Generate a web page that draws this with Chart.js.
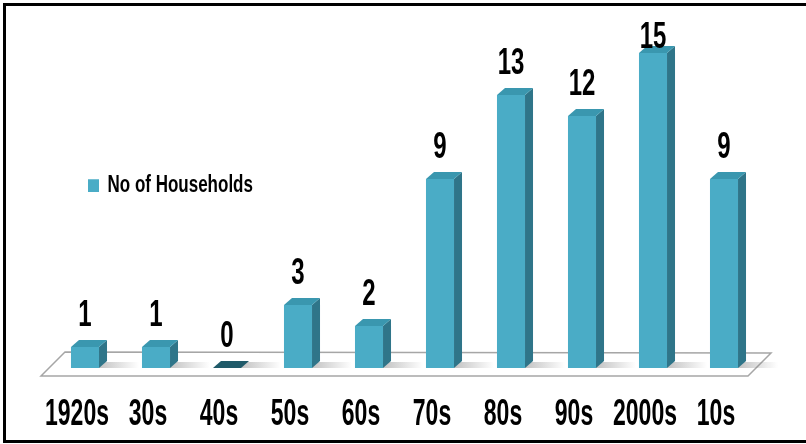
<!DOCTYPE html>
<html>
<head>
<meta charset="utf-8">
<script src="https://cdn.jsdelivr.net/npm/chart.js@4/dist/chart.umd.min.js"></script>
<style>
  html, body { margin: 0; padding: 0; background: #fff; overflow: hidden; }
  #wrap { position: relative; width: 806px; height: 444px; overflow: hidden; }
  #frame { position: absolute; left: 3px; top: 3px; width: 830px; height: 440px;
           border-top: 3px solid #000; border-left: 3px solid #000; border-bottom: 3px solid #000;
           box-sizing: border-box; }
  canvas { position: absolute; left: 0; top: 0; }
</style>
</head>
<body>
<div id="wrap">
  <div id="frame"></div>
  <canvas id="myChart" width="806" height="444"></canvas>
</div>
<script>
// decades and household counts
const decades = ["1920s", "30s", "40s", "50s", "60s", "70s", "80s", "90s", "2000s", "10s"];
const households = [1, 1, 0, 3, 2, 9, 13, 12, 15, 9];
const seriesName = "No of Households";

const FONT = "'Liberation Sans', Arial, sans-serif";
const frontCol = "#4aacc6";
const sideCol = "#2f7589";
const topCol = "#3a97af";
const flatCol = "#1f5a69";
const depth = 8, rise = 7;
const tickSize = 23, labelSize = 24, legendSize = 17;

// the original uses a tall condensed face, so text gets stretched upward
function stretchY(target, name, centerY, k) {
  if (target["_st_" + name]) return;
  target["_st_" + name] = true;
  const orig = target[name];
  target[name] = function (...args) {
    const ctx = this.ctx;
    const c = centerY(this);
    ctx.save();
    ctx.translate(0, c); ctx.scale(1, k); ctx.translate(0, -c);
    orig.apply(this, args);
    ctx.restore();
  };
}

// floor under the bars, a flat parallelogram
const floorPlugin = {
  id: "floor",
  beforeDatasetsDraw(chart) {
    const a = chart.chartArea;
    const y0 = chart.scales.y.getPixelForValue(0);
    const ctx = chart.ctx;
    ctx.save();
    ctx.beginPath();
    ctx.moveTo(a.left - 8.5, y0 + 8);
    ctx.lineTo(a.right - 11.5, y0 + 8);
    ctx.lineTo(a.right + 11.5, y0 - 15);
    ctx.lineTo(a.left + 15.5, y0 - 16);
    ctx.closePath();
    ctx.fillStyle = "#fff";
    ctx.fill();
    ctx.lineWidth = 1.5;
    ctx.strokeStyle = "#a6a6a6";
    ctx.stroke();
    // soft shadows behind the bars
    chart.getDatasetMeta(0).data.forEach((bar) => {
      const x = bar.x + bar.width / 2;
      const g = ctx.createLinearGradient(x, 0, x + 40, 0);
      g.addColorStop(0, "rgba(120,120,120,0.45)");
      g.addColorStop(1, "rgba(120,120,120,0)");
      ctx.fillStyle = g;
      ctx.beginPath();
      ctx.moveTo(bar.x - bar.width / 2 + 4, y0);
      ctx.lineTo(x + 40, y0);
      ctx.lineTo(x + 44, y0 - 6);
      ctx.lineTo(bar.x - bar.width / 2 + 8, y0 - 6);
      ctx.closePath();
      ctx.fill();
    });
    ctx.restore();
  }
};

// side and top faces on each bar, then the value above it
const boxPlugin = {
  id: "box3d",
  afterDatasetsDraw(chart) {
    const ctx = chart.ctx;
    ctx.save();
    chart.getDatasetMeta(0).data.forEach((bar, i) => {
      const l = bar.x - bar.width / 2, r = bar.x + bar.width / 2;
      const y = bar.y, b = bar.base;
      if (b - y > 0.5) {
        ctx.fillStyle = sideCol;
        ctx.beginPath();
        ctx.moveTo(r, y); ctx.lineTo(r + depth, y - rise);
        ctx.lineTo(r + depth, b - rise); ctx.lineTo(r, b);
        ctx.closePath(); ctx.fill();
      }
      ctx.fillStyle = (b - y > 0.5) ? topCol : flatCol;
      ctx.beginPath();
      ctx.moveTo(l, y); ctx.lineTo(l + depth, y - rise);
      ctx.lineTo(r + depth, y - rise); ctx.lineTo(r, y);
      ctx.closePath(); ctx.fill();

      const base = Math.max(y - 21, 48);
      ctx.save();
      ctx.translate(bar.x, base);
      ctx.scale(1, 1.55);
      ctx.fillStyle = "#000";
      ctx.font = "bold " + labelSize + "px " + FONT;
      ctx.textAlign = "center";
      ctx.textBaseline = "alphabetic";
      ctx.fillText(String(households[i]), 0, 0);
      ctx.restore();
    });
    ctx.restore();
  }
};

// legend inside the plot, left of the 70s bar; stretch tick and legend text
const layoutTweaks = {
  id: "layoutTweaks",
  afterLayout(chart) {
    const lg = chart.legend;
    const w = lg.right - lg.left, h = lg.bottom - lg.top;
    const item = legendSize * 1.2;
    lg.left = 78; lg.right = 78 + w;
    lg.top = 188 - 10 - item / 2; lg.bottom = lg.top + h;
    stretchY(lg, "draw", () => 188, 1.4);
    const xs = chart.scales.x;
    stretchY(xs, "drawLabels", (s) => s.top + s.options.ticks.padding + tickSize * 0.6, 1.6);
  }
};

new Chart("myChart", {
  type: "bar",
  data: {
    labels: decades,
    datasets: [{
      label: seriesName,
      data: households,
      backgroundColor: frontCol,
      borderColor: "#31859c",
      borderWidth: 0,
      barPercentage: 0.79,
      categoryPercentage: 0.5
    }]
  },
  options: {
    responsive: false,
    animation: false,
    layout: { padding: { left: 49.5, right: 46.5, top: 32, bottom: 0 } },
    plugins: {
      legend: {
        position: "chartArea",
        align: "start",
        labels: {
          font: { family: FONT, size: legendSize, weight: "bold" },
          color: "#000",
          boxWidth: 11,
          boxHeight: 9,
          padding: 10
        }
      },
      tooltip: { enabled: false }
    },
    scales: {
      x: {
        grid: { display: false, drawTicks: false },
        border: { display: false },
        ticks: {
          font: { family: FONT, size: tickSize, weight: "bold" },
          color: "#000",
          padding: 33,
          labelOffset: -8,
          autoSkip: false,
          maxRotation: 0
        },
        afterFit(scale) { scale.height = 76; }
      },
      y: {
        display: false,
        min: 0,
        max: 16
      }
    }
  },
  plugins: [floorPlugin, boxPlugin, layoutTweaks]
});
</script>
</body>
</html>
